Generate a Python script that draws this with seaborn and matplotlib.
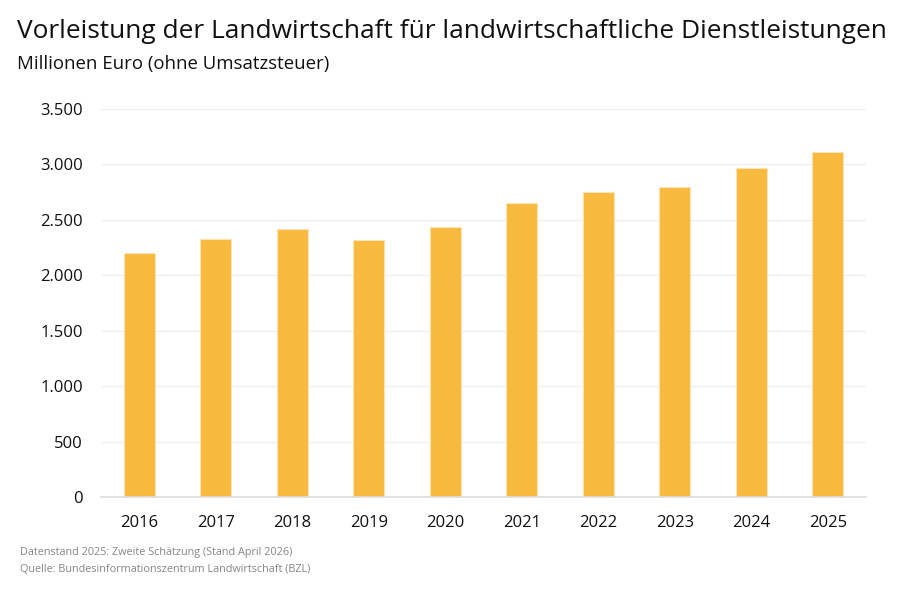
import matplotlib
matplotlib.use("Agg")
import matplotlib.pyplot as plt
import seaborn as sns
import pandas as pd
from matplotlib.ticker import FuncFormatter

years = ["2016", "2017", "2018", "2019", "2020", "2021", "2022", "2023", "2024", "2025"]
values = [2205, 2329, 2419, 2317, 2435, 2654, 2753, 2796, 2964, 3111]
yticks = [0, 500, 1000, 1500, 2000, 2500, 3000, 3500]

title = "Vorleistung der Landwirtschaft für landwirtschaftliche Dienstleistungen"
subtitle = "Millionen Euro (ohne Umsatzsteuer)"
footer1 = "Datenstand 2025: Zweite Schätzung (Stand April 2026)"
footer2 = "Quelle: Bundesinformationszentrum Landwirtschaft (BZL)"

sns.set_theme(style="white")
plt.rcParams["font.family"] = ["Open Sans", "DejaVu Sans"]

df = pd.DataFrame({"Jahr": years, "Wert": values})

fig = plt.figure(figsize=(9, 5.89), dpi=100)
ax = fig.add_axes([101/900, 1-497/589, 765/900, (497-109)/589 + 0.0001])

sns.barplot(data=df, x="Jahr", y="Wert", color="#F7BA3E", saturation=1,
            width=0.405, edgecolor="#FCE3B0", linewidth=0.8, ax=ax, zorder=3)

ax.set_ylim(0, 3500)
ax.set_xlim(-0.5, len(years) - 0.5)
ax.set_yticks(yticks)
ax.yaxis.set_major_formatter(FuncFormatter(lambda v, p: f"{int(v):,}".replace(",", ".")))
ax.grid(axis="y", color="#EEEEEE", linewidth=0.9, zorder=0)
ax.set_axisbelow(True)
for s in ["top", "right", "left"]:
    ax.spines[s].set_visible(False)
ax.spines["bottom"].set_color("#DDDDDD")
ax.spines["bottom"].set_linewidth(1.2)
ax.spines["bottom"].set_zorder(4)
ax.set_xlabel("")
ax.set_ylabel("")
ax.tick_params(axis="both", length=0, labelsize=12, colors="#111111")
ax.tick_params(axis="y", pad=13)
ax.tick_params(axis="x", pad=13)

fig.text(17/900, 1-32/589, title, fontsize=18.9, color="#111111", va="center", ha="left")
fig.text(17/900, 1-64/589, subtitle, fontsize=13.4, color="#111111", va="center", ha="left")
fig.text(20/900, 1-553/589, footer1, fontsize=7.8, color="#858585", va="center", ha="left")
fig.text(20/900, 1-569/589, footer2, fontsize=7.8, color="#858585", va="center", ha="left")

fig.savefig("out.png", dpi=100)
